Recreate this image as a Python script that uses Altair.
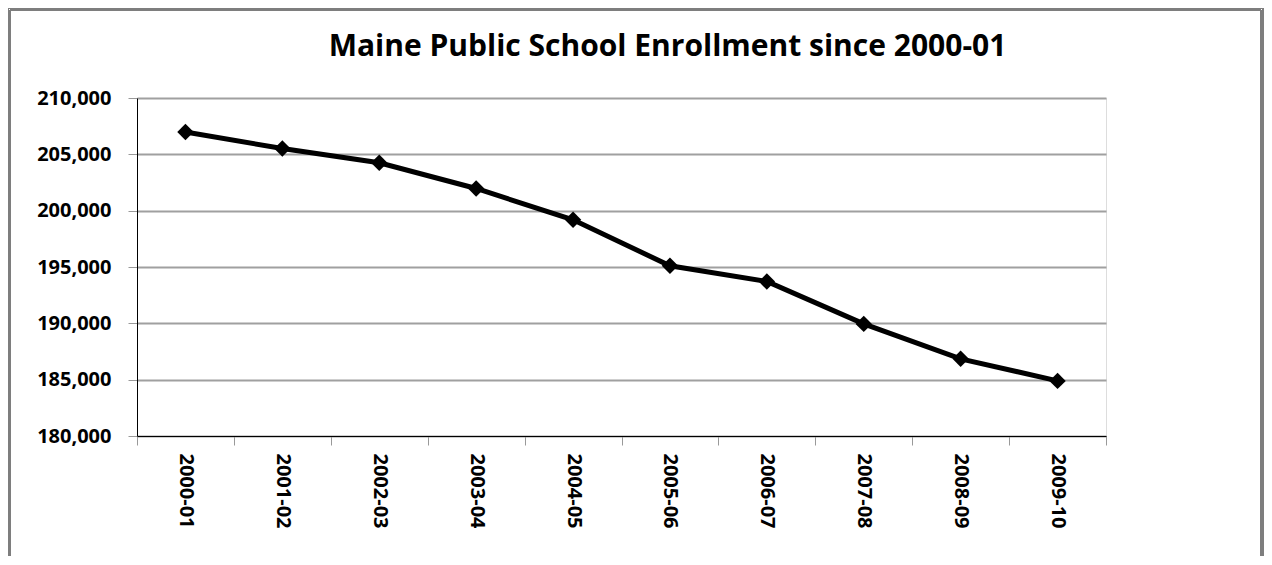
import altair as alt
import pandas as pd

years = ["2000-01", "2001-02", "2002-03", "2003-04", "2004-05",
         "2005-06", "2006-07", "2007-08", "2008-09", "2009-10"]
enrollment = [206980, 205520, 204250, 201970, 199190,
              195110, 193710, 189950, 186850, 184890]
y_ticks = [180000, 185000, 190000, 195000, 200000, 205000, 210000]
title_text = "Maine Public School Enrollment since 2000-01"

df = pd.DataFrame({"year": years, "enrollment": enrollment})

W, H = 969, 338
FONT = "Open Sans"

x_enc = alt.X(
    "year:O",
    sort=years,
    title=None,
    scale=alt.Scale(type="band", paddingInner=0, paddingOuter=0),
    axis=alt.Axis(
        tickBand="extent",
        labelAngle=90,
        labelAlign="left",
        labelBaseline="middle",
        labelFont=FONT,
        labelFontSize=20,
        labelFontWeight="bold",
        labelColor="black",
        labelPadding=8,
        tickSize=9,
        tickColor="#999999",
        domainColor="black",
        domainWidth=1,
        grid=False,
    ),
)

y_enc = alt.Y(
    "enrollment:Q",
    title=None,
    scale=alt.Scale(domain=[180000, 210000], nice=False, zero=False),
    axis=alt.Axis(
        values=y_ticks,
        format=",.0f",
        labelFont=FONT,
        labelFontSize=20,
        labelFontWeight="bold",
        labelColor="black",
        labelPadding=17,
        tickSize=9,
        tickColor="#999999",
        domainColor="black",
        domainWidth=1,
        grid=True,
        gridColor="#a0a0a0",
        gridWidth=2,
    ),
)

line = alt.Chart(df).mark_line(color="black", strokeWidth=5).encode(x=x_enc, y=y_enc)
pts = alt.Chart(df).mark_point(
    shape="diamond", filled=True, color="black", size=270, opacity=1
).encode(x=x_enc, y=y_enc)

frame_outer = alt.Chart(df).mark_rect(
    fill=None, stroke="#7f7f7f", strokeWidth=1, clip=False
).encode(
    x=alt.value(-129), x2=alt.value(W + 157),
    y=alt.value(-90), y2=alt.value(H + 200),
)
frame_inner = alt.Chart(df).mark_rect(
    fill=None, stroke="#7f7f7f", strokeWidth=1, clip=False
).encode(
    x=alt.value(-127), x2=alt.value(W + 155),
    y=alt.value(-88), y2=alt.value(H + 200),
)

title = alt.Chart(pd.DataFrame({"t": [title_text]})).mark_text(
    font=FONT, fontSize=30, fontWeight="bold", color="black",
    align="center", baseline="alphabetic",
).encode(text="t:N", x=alt.value(W / 2 + 46), y=alt.value(-42))

chart = alt.layer(frame_outer, frame_inner, line, pts, title).properties(
    width=W,
    height=H,
    autosize="none",
    padding={"left": 129, "top": 90, "right": 158, "bottom": 120},
).configure_view(stroke=None).configure(background="white")

chart.save("out.html", embed_options={"renderer": "svg", "actions": False})
